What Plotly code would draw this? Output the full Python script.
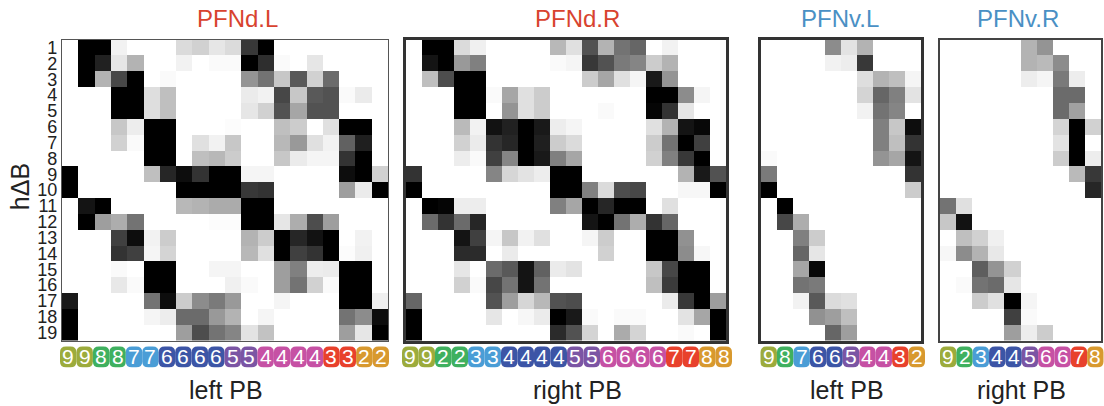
import plotly.graph_objects as go

rows = [str(i) for i in range(1, 20)]

labels_dl = [9,9,8,8,7,7,6,6,6,6,5,5,4,4,4,4,3,3,2,2]
labels_dr = [9,9,2,2,3,3,4,4,4,4,5,5,6,6,6,6,7,7,8,8]
labels_vl = [9,8,7,6,6,5,4,4,3,2]
labels_vr = [9,2,3,4,4,5,6,6,7,8]

dl = [
 [0,100,100,5,0,0,0,14,18,10,14,78,100,0,0,0,0,0,0,0],
 [0,100,87,10,30,0,0,5,0,2,2,100,82,2,0,10,0,0,0,0],
 [0,100,30,72,100,0,2,0,0,0,0,42,55,22,65,18,58,0,0,0],
 [0,0,0,100,100,13,25,0,0,0,0,8,5,72,22,65,68,2,8,0],
 [0,0,0,100,100,13,25,0,0,0,0,10,18,68,35,68,68,0,0,0],
 [0,0,0,22,7,100,100,0,0,0,1,0,0,25,20,0,12,100,100,0],
 [0,0,0,18,2,100,100,0,12,5,22,0,0,28,40,12,5,62,88,0],
 [0,0,0,0,0,100,100,0,25,28,20,0,0,22,8,4,4,80,100,0],
 [100,0,0,0,0,25,85,95,80,100,100,4,4,0,0,0,0,95,100,18],
 [100,0,0,0,0,0,0,100,100,100,100,78,80,0,0,0,0,38,8,100],
 [0,92,100,0,0,0,0,28,30,33,33,100,100,0,0,0,0,0,0,0],
 [0,100,38,32,55,0,0,0,0,1,1,100,100,10,32,70,38,0,0,0],
 [0,0,0,75,95,5,20,0,0,0,0,30,20,100,85,93,100,0,5,0],
 [0,0,0,80,75,4,17,0,0,0,0,28,12,100,75,80,100,1,6,0],
 [0,0,0,2,0,100,100,0,0,4,4,0,0,38,50,7,8,100,100,0],
 [0,0,0,9,2,100,100,0,0,0,6,2,0,38,55,18,2,100,100,0],
 [90,0,0,0,0,55,95,20,45,52,40,0,0,4,0,0,0,100,100,6],
 [100,0,0,0,0,4,7,58,58,40,30,0,4,0,0,0,0,55,45,95],
 [100,0,0,0,0,0,0,38,70,55,48,11,24,0,0,0,0,38,10,100],
]
dr = [
 [0,100,100,14,6,0,0,0,0,28,12,68,30,55,60,0,5,0,0,0],
 [0,92,100,40,50,0,0,0,0,2,4,78,68,52,48,20,30,0,0,0],
 [0,25,70,100,100,0,0,0,0,0,0,20,35,12,4,90,42,0,0,0],
 [0,0,0,100,100,2,35,12,20,0,0,0,0,0,0,100,100,45,4,0],
 [0,0,0,100,100,0,42,12,20,0,0,0,2,0,0,98,80,10,0,0],
 [0,0,0,27,5,93,87,100,90,7,4,0,0,0,0,12,30,92,97,0],
 [0,0,0,18,8,80,85,100,88,20,14,0,0,0,0,20,55,100,75,0],
 [0,0,0,7,2,75,48,100,90,50,35,0,0,0,0,18,50,78,100,0],
 [80,0,0,0,0,48,16,11,7,100,100,0,0,0,0,0,0,30,90,68],
 [100,0,0,0,0,0,0,0,0,100,100,50,14,70,72,0,0,3,3,100],
 [0,100,98,7,7,0,0,0,0,50,35,100,85,100,100,0,12,0,0,0],
 [0,58,80,58,85,0,0,0,0,0,0,92,100,55,32,80,60,0,0,0],
 [0,0,0,92,75,4,22,5,12,0,0,4,20,0,0,100,100,43,0,0],
 [0,0,0,83,83,0,8,0,0,0,0,0,18,0,0,100,100,45,3,0],
 [0,0,0,10,0,58,65,92,62,8,11,0,0,0,0,22,72,100,100,0],
 [0,0,0,18,2,72,55,92,55,0,0,0,0,0,0,25,77,100,100,0],
 [60,0,0,0,0,68,38,16,28,68,70,0,0,0,0,0,8,78,100,38],
 [100,0,0,0,0,10,0,3,8,100,90,2,0,2,2,0,0,11,35,100],
 [100,0,0,0,0,0,0,0,0,83,68,17,0,33,17,0,0,2,0,100],
]
vl = [
 [0,0,0,0,45,11,30,0,0,0],
 [0,0,0,0,5,7,78,0,0,0],
 [0,0,0,0,0,0,13,30,25,4],
 [0,0,0,0,0,0,17,60,50,11],
 [0,0,0,0,0,0,5,55,48,0],
 [0,0,0,0,0,0,0,50,22,95],
 [0,0,0,0,0,0,0,50,25,80],
 [2,0,0,0,0,0,0,42,35,92],
 [52,0,0,0,0,0,0,0,0,80],
 [100,0,0,0,0,0,0,0,0,20],
 [0,100,0,0,0,0,0,0,0,0],
 [0,72,32,0,0,0,0,0,0,0],
 [0,0,50,20,0,0,0,0,0,0],
 [0,0,60,10,0,0,0,0,0,0],
 [0,0,35,97,0,0,0,0,0,0],
 [0,0,55,52,0,0,0,0,0,0],
 [0,0,5,65,14,12,0,0,0,0],
 [0,0,0,43,38,25,0,0,0,0],
 [0,0,0,0,60,38,0,0,0,0],
]
vr = [
 [0,0,0,0,0,30,42,0,0,0],
 [0,0,0,0,0,30,27,45,0,0],
 [0,0,0,0,0,7,4,52,7,0],
 [0,0,0,0,0,0,0,58,58,0],
 [0,0,0,0,0,0,0,58,37,0],
 [0,0,0,0,0,0,0,17,100,18],
 [0,0,0,0,0,0,0,11,100,0],
 [0,0,0,0,0,0,0,20,100,7],
 [0,0,0,0,0,0,0,0,27,78],
 [0,0,0,0,0,0,0,0,0,85],
 [55,12,0,0,0,0,0,0,0,0],
 [22,93,0,0,0,0,0,0,0,0],
 [0,25,18,6,0,0,0,0,0,0],
 [3,45,30,9,0,0,0,0,0,0],
 [0,0,63,42,18,0,0,0,0,0],
 [0,2,55,58,10,0,0,0,0,0],
 [0,0,20,12,100,4,0,0,0,0],
 [0,0,0,0,75,2,0,0,0,0],
 [0,0,0,0,38,7,20,0,0,0],
]

W, H = 1104, 406
OLIVE, GREEN, LBLUE, DBLUE, PURPLE, PINK, RED, ORANGE = (
    "#9cab3c", "#3fb05f", "#4a9dd6", "#3c55a6", "#7b55a4", "#c651a4", "#e8412c", "#d8992f")
cols20 = [OLIVE]*2+[GREEN]*2+[LBLUE]*2+[DBLUE]*4+[PURPLE]*2+[PINK]*4+[RED]*2+[ORANGE]*2
cols10 = [OLIVE,GREEN,LBLUE,DBLUE,DBLUE,PURPLE,PINK,PINK,RED,ORANGE]

panels = [
    dict(z=dl, labels=labels_dl, cols=cols20, x0=62, x1=388, bx=(60, 389), title="PFNd.L", tc="#d8432f",
         tx=237, xt="left PB", xx=226, lw=1.3, lc="#555555"),
    dict(z=dr, labels=labels_dr, cols=cols20, x0=406, x1=726, bx=(402, 732), title="PFNd.R", tc="#d8432f",
         tx=577, xt="right PB", xx=577.5, lw=2.5, lc="#333333"),
    dict(z=vl, labels=labels_vl, cols=cols10, x0=760.5, x1=921, bx=(760.5, 925), title="PFNv.L", tc="#4a90c4",
         tx=840, xt="left PB", xx=847, lw=2.5, lc="#333333"),
    dict(z=vr, labels=labels_vr, cols=cols10, x0=940, x1=1101, bx=(940, 1103.5), title="PFNv.R", tc="#4a90c4",
         tx=1018, xt="right PB", xx=1021, lw=1.5, lc="#444444"),
]
Y0, Y1 = 38, 342
BADGE_T, BADGE_B = 348, 369
FONT = "Liberation Sans, Arial, sans-serif"

fig = go.Figure()
shapes, annos = [], []
layout = {}


def rounded(x0, x1, y0, y1, r):
    fx = lambda v: v / W
    fy = lambda v: 1 - v / H
    return (f"M{fx(x0+r)},{fy(y0)} L{fx(x1-r)},{fy(y0)} Q{fx(x1)},{fy(y0)} {fx(x1)},{fy(y0+r)} "
            f"L{fx(x1)},{fy(y1-r)} Q{fx(x1)},{fy(y1)} {fx(x1-r)},{fy(y1)} "
            f"L{fx(x0+r)},{fy(y1)} Q{fx(x0)},{fy(y1)} {fx(x0)},{fy(y1-r)} "
            f"L{fx(x0)},{fy(y0+r)} Q{fx(x0)},{fy(y0)} {fx(x0+r)},{fy(y0)} Z")


for i, p in enumerate(panels):
    n = len(p["labels"])
    sfx = "" if i == 0 else str(i + 1)
    fig.add_trace(go.Heatmap(
        z=p["z"], x=list(range(n)), y=rows, zmin=0, zmax=100,
        colorscale=[[0, "#ffffff"], [1, "#000000"]], showscale=False,
        xaxis="x" + sfx, yaxis="y" + sfx, hoverinfo="skip"))
    layout["xaxis" + sfx] = dict(
        domain=[p["x0"] / W, p["x1"] / W], range=[-0.5, n - 0.5], anchor="y" + sfx,
        showticklabels=False, ticks="",
        showgrid=False, zeroline=False, showline=True, mirror=True,
        linewidth=p["lw"], linecolor=p["lc"])
    layout["yaxis" + sfx] = dict(
        domain=[1 - Y1 / H, 1 - Y0 / H], autorange="reversed", anchor="x" + sfx, type="category",
        showticklabels=(i == 0), tickmode="array", tickvals=rows, ticktext=rows,
        tickfont=dict(family=FONT, size=18, color="#222222"), ticks="",
        showgrid=False, zeroline=False, showline=True, mirror=True,
        linewidth=p["lw"], linecolor=p["lc"])
    bstart, bend = p["bx"]
    step = (bend - bstart) / n
    for j, c in enumerate(p["cols"]):
        bx0 = bstart + j * step
        shapes.append(dict(type="path", xref="paper", yref="paper", layer="below",
                           path=rounded(bx0, bx0 + step, BADGE_T, BADGE_B, 6),
                           fillcolor=c, line=dict(width=0)))
        annos.append(dict(text=str(p["labels"][j]), x=(bx0 + step / 2) / W, y=1 - 358.5 / H,
                          xref="paper", yref="paper", xanchor="center", yanchor="middle",
                          showarrow=False, font=dict(family=FONT, size=21, color="#ffffff")))
    annos.append(dict(text=p["title"], x=p["tx"] / W, y=1 - 17 / H, xref="paper", yref="paper",
                      xanchor="center", yanchor="middle",
                      showarrow=False, font=dict(family=FONT, size=24, color=p["tc"])))
    annos.append(dict(text=p["xt"], x=p["xx"] / W, y=1 - 392 / H, xref="paper", yref="paper",
                      xanchor="center", yanchor="middle",
                      showarrow=False, font=dict(family=FONT, size=25, color="#222222")))

annos.append(dict(text="h\u0394B", x=20 / W, y=1 - 187 / H, xref="paper", yref="paper",
                  xanchor="center", yanchor="middle",
                  showarrow=False, textangle=-90, font=dict(family=FONT, size=25, color="#222222")))

fig.update_layout(width=W, height=H, margin=dict(l=0, r=0, t=0, b=0), paper_bgcolor="#ffffff",
                  plot_bgcolor="rgba(0,0,0,0)", shapes=shapes, annotations=annos, **layout)
fig.write_html("out.html", config={"displayModeBar": False},
               post_script="document.body.style.margin='0';document.body.style.overflow='hidden';")
